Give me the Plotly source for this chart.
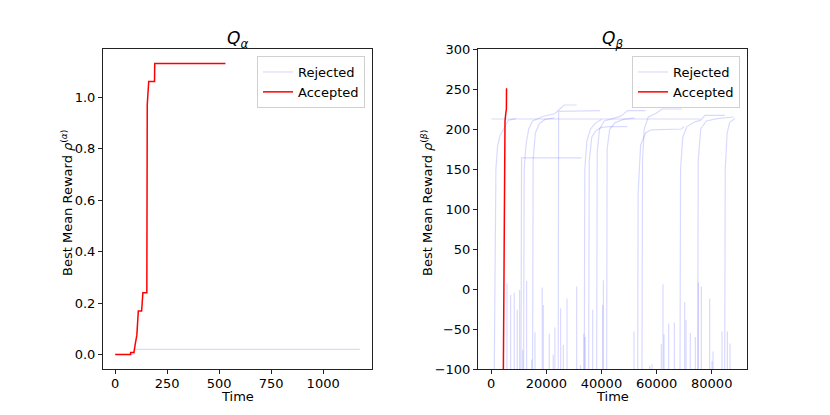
import plotly.graph_objects as go

# ---------------- data ----------------
# Q_alpha panel
alpha_acc_t = [0, 74, 74, 90, 96, 104, 111, 127, 133, 152, 154, 156, 161, 189, 190, 530]
alpha_acc_r = [0, 0, 0.008, 0.008, 0.039, 0.075, 0.169, 0.169, 0.24, 0.24, 0.971, 1.0, 1.061, 1.061, 1.131, 1.131]
alpha_rej_t = [0, 90, 93, 1176]
alpha_rej_r = [0, 0, 0.0195, 0.0195]

# Q_beta panel
beta_acc_t = [4400, 4600, 4750, 5000, 5300, 5500, 5550]
beta_acc_r = [-100, 60, 170, 210, 220, 225, 251]

beta_rej_runs_t = [
    [0, 76000],
    [1100, 1300, 1700, 2300, 3200, 4400, 6200, 9000],
    [10800, 11000, 32800],
    [11750, 11950, 12600, 13600, 15000, 17000, 19000, 23000, 24500, 26500, 31000],
    [15000, 15200, 16000, 17500, 19500, 23000],
    [24300, 24450, 39500],
    [33770, 33950, 34700, 36000, 38000, 40000],
    [35350, 35550, 36500, 38000, 40000, 43000, 47000, 49400],
    [38250, 38450, 39300, 41000, 44000, 47000, 49500, 56000],
    [41880, 42050, 43000, 45000, 48000, 52000],
    [53130, 53300, 54200, 56000, 58000, 69000, 70000],
    [54700, 54900, 55500, 57000, 60000, 62000, 69200],
    [68490, 68700, 69500, 71000, 74000, 76000, 77500, 84800],
    [74910, 75100, 76000, 78000, 82000, 88000],
    [84700, 84900, 85600, 86500, 88400],
]
beta_rej_runs_r = [
    [212.5, 212.5],
    [-100, 50, 150, 178, 192, 199, 211, 213],
    [-100, 164, 164],
    [-100, 150, 180, 200, 210, 213, 216, 219, 224, 230, 230],
    [-100, 160, 195, 207, 212, 214],
    [-100, 222, 223],
    [-100, 150, 185, 200, 208, 212],
    [-100, 160, 190, 198, 202, 203, 203, 203],
    [-100, 170, 200, 210, 213, 216, 223, 223],
    [-100, 175, 200, 208, 212, 214],
    [-100, 120, 180, 195, 199, 200, 203],
    [-100, 160, 200, 215, 220, 225, 225],
    [-100, 150, 190, 203, 209, 211, 217, 217],
    [-100, 160, 200, 210, 213, 215],
    [-100, 150, 195, 208, 213],
]

# short rejected runs that only reach low rewards
beta_spike_t = [5700, 7030, 8360, 9450, 10300, 11400, 12840, 14650, 15870, 18500, 18900,
                21070, 22500, 23100, 25180, 26150, 27500, 31000, 32400, 33600, 34100, 36800,
                40400, 40700, 51800, 57480, 58330, 61720, 62320, 62690, 64380, 66440,
                70190, 70670, 72240, 74060, 75150, 76240, 79260, 80110, 80470, 83740,
                85680, 86640]
beta_spike_top = [7, -7.5, -4.6, -26, -1.25, -76, 10, -88, -54, 2, -20,
                  -56, -82, -48, -24, -70, -12, 3, -95, -56, -60, -26,
                  -20, 11, -53, -96, -94, -69, 6, -57, -43, -42,
                  -16.7, -39, -55, -60, 8, 3, -12, -90, -78, -53,
                  -53, -68]
spike_base = -100

alpha_xticks = [0, 250, 500, 750, 1000]
alpha_yticks = [0.0, 0.2, 0.4, 0.6, 0.8, 1.0]
beta_xticks = [0, 20000, 40000, 60000, 80000]
beta_yticks = [-100, -50, 0, 50, 100, 150, 200, 250, 300]

# ---------------- figure ----------------
REJ = "rgba(0,0,255,0.15)"
ACC = "#ff0000"
FONT = "DejaVu Sans"

fig = go.Figure()

fig.add_trace(go.Scatter(x=alpha_rej_t, y=alpha_rej_r, mode="lines", name="Rejected",
                         line=dict(color=REJ, width=1.2), xaxis="x", yaxis="y",
                         legend="legend"))
fig.add_trace(go.Scatter(x=alpha_acc_t, y=alpha_acc_r, mode="lines", name="Accepted",
                         line=dict(color=ACC, width=1.5), xaxis="x", yaxis="y",
                         legend="legend"))

for i, (ts, rs) in enumerate(zip(beta_rej_runs_t, beta_rej_runs_r)):
    fig.add_trace(go.Scatter(x=ts, y=rs, mode="lines", name="Rejected",
                             line=dict(color=REJ, width=1.2), xaxis="x2", yaxis="y2",
                             legend="legend2", legendgroup="rej", showlegend=(i == 0)))
for t, top in zip(beta_spike_t, beta_spike_top):
    fig.add_trace(go.Scatter(x=[t, t], y=[spike_base, top], mode="lines", name="Rejected",
                             line=dict(color=REJ, width=1.2), xaxis="x2", yaxis="y2",
                             legend="legend2", legendgroup="rej", showlegend=False))
fig.add_trace(go.Scatter(x=beta_acc_t, y=beta_acc_r, mode="lines", name="Accepted",
                         line=dict(color=ACC, width=1.5), xaxis="x2", yaxis="y2",
                         legend="legend2"))

# page body has an 8px offset; positions below are screen pixels minus that offset
OFF = 8
W, H = 830 - OFF, 415 - OFF
L1, R1 = 103 - OFF, 372 - OFF
L2, R2 = 478 - OFF, 747 - OFF
T, B = 49 - OFF, 369 - OFF
ydom = [1 - B / H, 1 - T / H]


def px_x(v):
    return (v - OFF) / W


def px_y(v):
    return 1 - (v - OFF) / H


axis_common = dict(showline=True, mirror=True, linecolor="#222", linewidth=1,
                   ticks="outside", ticklen=4, tickwidth=1, tickcolor="#222",
                   showgrid=False, zeroline=False, automargin=False,
                   tickfont=dict(family=FONT, size=13, color="black"))

leg_common = dict(xanchor="right", yanchor="top",
                  bgcolor="rgba(255,255,255,0.8)", bordercolor="#d0d0d0", borderwidth=1,
                  font=dict(family=FONT, size=13, color="black"), itemwidth=30,
                  tracegroupgap=0)

txt = dict(xref="paper", yref="paper", showarrow=False, xanchor="center", yanchor="middle")

fig.update_layout(
    width=W, height=H,
    margin=dict(l=0, r=0, t=0, b=0),
    paper_bgcolor="white", plot_bgcolor="white",
    font=dict(family=FONT, color="black"),
    xaxis=dict(domain=[L1 / W, R1 / W], range=[-58.8, 1234.8], tickvals=alpha_xticks,
               anchor="y", ticklabelstandoff=-2, **axis_common),
    yaxis=dict(domain=ydom, range=[-0.0566, 1.1876], tickvals=alpha_yticks, tickformat=".1f",
               anchor="x", **axis_common),
    xaxis2=dict(domain=[L2 / W, R2 / W], range=[-4800, 92800], tickvals=beta_xticks,
                tickformat="d", anchor="y2", ticklabelstandoff=-2, **axis_common),
    yaxis2=dict(domain=ydom, range=[-100, 300], tickvals=beta_yticks,
                anchor="x2", **axis_common),
    legend=dict(x=px_x(365), y=px_y(56), **leg_common),
    legend2=dict(x=px_x(740), y=px_y(56), **leg_common),
    annotations=[
        dict(text="<i>Q</i><sub><i>α</i></sub>", x=px_x(237.5), y=px_y(40),
             font=dict(family=FONT, size=17, color="black"), **txt),
        dict(text="<i>Q</i><sub><i>β</i></sub>", x=px_x(612.5), y=px_y(40),
             font=dict(family=FONT, size=17, color="black"), **txt),
        dict(text="Time", x=px_x(237.5), y=px_y(396),
             font=dict(family=FONT, size=13, color="black"), **txt),
        dict(text="Time", x=px_x(612.5), y=px_y(396),
             font=dict(family=FONT, size=13, color="black"), **txt),
        dict(text="Best Mean Reward <i>ρ</i><sup>(<i>α</i>)</sup>", x=px_x(67), y=px_y(203),
             textangle=-90, font=dict(family=FONT, size=13, color="black"), **txt),
        dict(text="Best Mean Reward <i>ρ</i><sup>(<i>β</i>)</sup>", x=px_x(427), y=px_y(203),
             textangle=-90, font=dict(family=FONT, size=13, color="black"), **txt),
    ],
)

fig.write_html("out.html")
